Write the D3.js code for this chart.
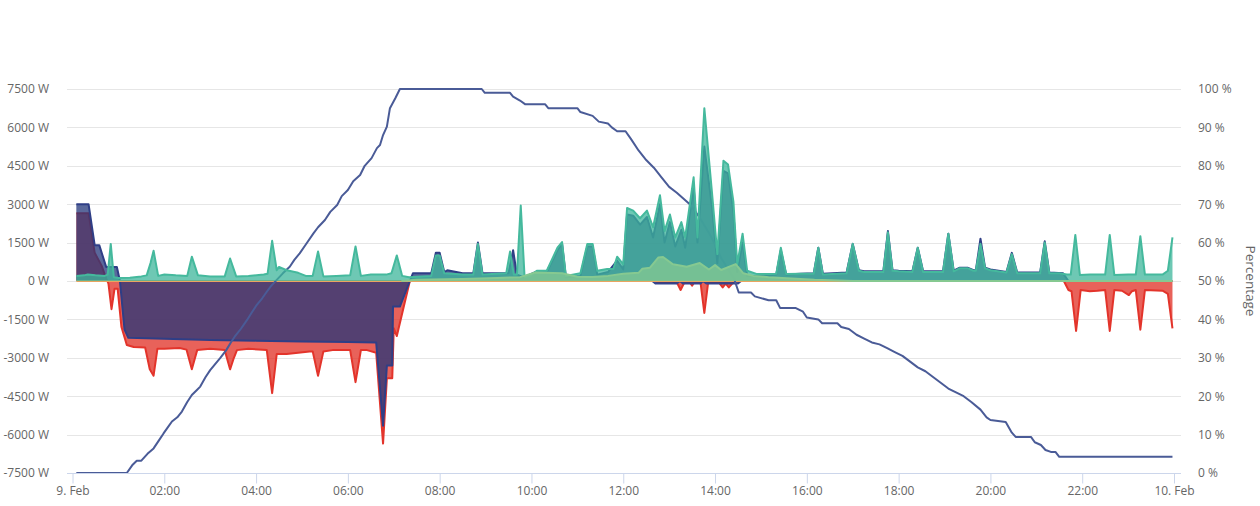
<!DOCTYPE html>
<html>
<head>
<meta charset="utf-8">
<script src="https://cdn.jsdelivr.net/npm/d3@7"></script>
<style>
  body { margin: 0; background: #fff; font-family: "Open Sans", sans-serif; }
</style>
</head>
<body>
<script>
// readings taken from the chart, [time, value]
var gridPower = [
  ["00:05",2650],["00:21",2650],["00:29",1100],["00:38",600],["00:44",100],["00:47",-100],["00:51",-1100],
  ["00:55",-300],["00:59",-300],["01:04",-1800],["01:11",-2500],["01:20",-2580],["01:35",-2600],["01:41",-3450],
  ["01:46",-3700],["01:51",-2650],["02:00",-2650],["02:20",-2620],["02:29",-2680],["02:36",-3450],["02:43",-2700],
  ["03:00",-2650],["03:19",-2700],["03:26",-3450],["03:31",-3000],["03:35",-2700],["03:50",-2650],["04:14",-2700],
  ["04:21",-4380],["04:27",-2850],["04:40",-2850],["04:55",-2800],["05:10",-2750],["05:14",-2750],["05:21",-3700],
  ["05:28",-2750],["05:40",-2700],["06:03",-2700],["06:10",-3950],["06:17",-2700],["06:25",-2700],["06:37",-2800],
  ["06:46",-6350],["06:51",-3800],["06:58",-3800],["07:00",-1850],["07:04",-2150],["07:21",0],["12:40",0],
  ["12:45",-50],["13:10",-50],["13:15",-350],["13:20",-50],["13:27",-50],["13:30",-180],["13:33",-50],["13:41",-50],
  ["13:46",-1250],["13:51",-50],["14:05",-50],["14:10",-250],["14:14",-100],["14:18",-250],["14:24",-50],["14:30",0],
  ["21:36",0],["21:42",-350],["21:46",-400],["21:52",-1950],["21:58",-350],["22:10",-400],["22:20",-380],["22:30",-350],
  ["22:36",-1950],["22:42",-350],["22:52",-380],["23:01",-550],["23:05",-400],["23:10",-350],["23:16",-1900],
  ["23:22",-350],["23:45",-380],["23:52",-500],["23:58",-1850]
];

var batteryPower = [
  ["00:05",3000],["00:21",3000],["00:29",1400],["00:35",1400],["00:44",550],["00:58",550],["01:02",0],["01:08",-1900],
  ["01:13",-2220],["02:00",-2260],["03:00",-2300],["04:00",-2330],["05:00",-2360],["06:00",-2380],["06:37",-2400],
  ["06:46",-5650],["06:51",-3300],["06:58",-3300],["06:59",-1000],["07:08",-1000],["07:21",0],["07:25",300],
  ["07:49",300],["07:55",1100],["08:00",1100],["08:06",350],["08:10",420],["08:30",300],["08:44",300],["08:50",1500],
  ["08:56",300],["09:30",300],["09:36",1200],["09:41",250],["09:50",150],["10:05",350],["10:20",350],["10:34",1200],
  ["10:40",1450],["10:45",150],["11:04",200],["11:13",1350],["11:20",1350],["11:26",250],["11:40",350],["11:52",800],
  ["12:00",450],["12:05",2600],["12:13",2550],["12:22",2200],["12:31",2500],["12:39",1700],["12:48",3000],
  ["12:54",1500],["13:01",2300],["13:08",1350],["13:16",2000],["13:21",1300],["13:32",3700],["13:37",1500],
  ["13:46",5250],["13:56",2900],["14:03",700],["14:11",4300],["14:17",4200],["14:24",2700],["14:29",350],
  ["14:36",1500],["14:42",200],["14:55",200],["15:12",220],["15:20",250],["15:26",1200],["15:33",250],["15:52",280],
  ["16:09",300],["16:15",1300],["16:21",280],["16:52",330],["17:00",1450],["17:08",420],["17:15",380],["17:40",380],
  ["17:46",1950],["17:52",420],["18:00",400],["18:18",380],["18:25",1300],["18:32",380],["18:58",380],["19:05",1850],
  ["19:12",400],["19:20",520],["19:30",520],["19:38",420],["19:41",420],["19:47",1650],["19:53",520],["20:00",450],
  ["20:21",350],["20:28",1100],["20:35",330],["21:05",330],["21:11",1550],["21:17",330],["21:35",300],["21:42",0],
  ["23:58",0]
];

var batteryTwoPower = [
  ["12:38",0],["12:42",-100],["13:10",-100],["13:14",0],["13:18",-100],["13:41",-100],["13:44",0],["13:49",-100],
  ["14:30",-100],["14:34",0]
];

var otherPower = [["00:05",0],["23:58",0]];

var housePower = [
  ["00:05",200],["00:15",220],["00:20",250],["00:30",220],["00:42",200],["00:46",250],["00:50",1450],["00:54",150],
  ["01:00",120],["01:15",130],["01:30",180],["01:37",220],["01:42",700],["01:46",1180],["01:52",200],["02:00",250],
  ["02:15",220],["02:30",200],["02:36",950],["02:44",220],["03:00",180],["03:19",180],["03:26",880],["03:34",180],
  ["03:50",200],["04:10",250],["04:15",280],["04:21",1570],["04:27",420],["04:30",550],["04:40",420],["04:55",320],
  ["05:05",200],["05:14",200],["05:21",1150],["05:28",180],["05:45",200],["06:03",220],["06:10",1350],["06:17",200],
  ["06:30",250],["06:50",250],["06:57",300],["07:04",1000],["07:11",200],["07:20",150],["07:49",200],["07:55",1000],
  ["08:00",1000],["08:06",300],["08:30",250],["08:44",250],["08:50",1450],["08:56",250],["09:27",300],["09:32",1150],
  ["09:37",250],["09:41",250],["09:46",2950],["09:51",150],["09:58",200],["10:07",400],["10:20",400],["10:34",1300],
  ["10:40",1520],["10:45",200],["11:04",300],["11:13",1450],["11:20",1450],["11:26",400],["11:39",470],["11:47",470],
  ["11:52",950],["12:00",650],["12:05",2850],["12:13",2750],["12:22",2450],["12:31",2750],["12:39",2100],
  ["12:48",3350],["12:54",1950],["13:01",2600],["13:08",1700],["13:16",2300],["13:21",1700],["13:32",4050],
  ["13:37",1700],["13:46",6750],["13:56",3450],["14:03",1050],["14:11",4700],["14:17",4550],["14:24",3100],
  ["14:29",650],["14:36",1850],["14:42",400],["14:55",270],["15:12",270],["15:20",280],["15:26",1300],["15:33",270],
  ["15:52",280],["16:09",280],["16:15",1300],["16:21",250],["16:52",300],["17:00",1450],["17:08",400],["17:15",350],
  ["17:40",350],["17:46",1900],["17:52",400],["18:00",380],["18:18",350],["18:25",1300],["18:32",350],["18:58",350],
  ["19:05",1850],["19:12",380],["19:20",500],["19:30",500],["19:38",400],["19:41",400],["19:47",1450],["19:53",500],
  ["20:00",420],["20:21",330],["20:28",1050],["20:35",300],["21:05",300],["21:11",1500],["21:17",300],["21:30",300],
  ["21:40",250],["21:45",250],["21:51",1800],["21:57",230],["22:10",250],["22:30",250],["22:36",1800],["22:42",230],
  ["23:00",250],["23:10",250],["23:16",1750],["23:22",250],["23:45",250],["23:52",400],["23:58",1700]
];

var solarPower = [
  ["07:10",0],["07:30",50],["08:30",80],["09:15",120],["09:45",150],["10:05",330],["10:40",300],["11:00",170],
  ["11:20",160],["11:40",200],["12:00",280],["12:20",320],["12:25",480],["12:35",520],["12:46",920],["12:52",940],
  ["13:05",650],["13:23",560],["13:40",700],["13:52",450],["14:00",620],["14:08",430],["14:27",660],["14:37",300],
  ["14:50",200],["15:10",150],["15:40",100],["16:10",50],["16:40",20],["17:00",0],["23:58",0]
];

var batteryPercent = [
  ["00:05",0],["01:11",0],["01:18",2],["01:24",3.2],["01:30",3.2],["01:38",5],["01:46",6.4],["01:53",8.5],
  ["01:59",10.3],["02:05",12],["02:10",13.4],["02:17",14.5],["02:23",16],["02:30",18.5],["02:36",20.3],["02:42",21.5],
  ["02:47",22.5],["02:54",25],["03:00",26.8],["03:07",28.5],["03:13",29.9],["03:21",32],["03:27",34],["03:32",35.5],
  ["03:40",37.5],["03:48",39.8],["03:55",42],["04:01",43.8],["04:08",45.5],["04:14",47.2],["04:20",48.8],
  ["04:27",50.3],["04:35",52],["04:44",53.7],["04:50",55.5],["04:57",57.2],["05:05",59.5],["05:15",62.4],
  ["05:21",64],["05:30",65.9],["05:37",68],["05:46",69.8],["05:52",72.1],["06:00",73.7],["06:07",76],["06:16",77.6],
  ["06:22",80],["06:31",82],["06:38",84.6],["06:42",85.4],["06:46",88],["06:51",90.2],["06:55",95],["07:02",97.6],
  ["07:08",100],["08:55",100],["08:59",99],["09:32",99],["09:36",98],["09:45",97],["09:52",96],["10:18",96],
  ["10:22",95],["11:00",95],["11:04",94],["11:20",93],["11:28",91.5],["11:40",91],["11:45",90],["11:52",89],
  ["12:03",89],["12:10",87],["12:20",84],["12:30",81.5],["12:40",79.5],["12:50",77],["13:00",74.5],["13:10",73],
  ["13:27",70],["13:40",66.5],["13:55",61.5],["14:08",56],["14:25",50.5],["14:31",47],["14:47",47],["14:52",46],
  ["15:10",45],["15:20",45],["15:25",43],["15:45",43],["15:55",42],["16:00",40.5],["16:15",40],["16:20",39],
  ["16:40",39],["16:45",38],["16:55",37.5],["17:05",36],["17:15",35],["17:25",34],["17:35",33.5],["17:45",32.5],
  ["17:55",31.5],["18:05",30.5],["18:15",29],["18:25",27.5],["18:35",26.5],["18:45",25],["18:55",23.5],["19:05",22],
  ["19:15",21],["19:25",20],["19:35",18.5],["19:47",16.5],["19:55",14.5],["20:00",13.8],["20:20",13.3],
  ["20:28",10.5],["20:33",9.4],["20:53",9.4],["20:58",8],["21:06",7.3],["21:12",6],["21:19",5.5],["21:25",5.5],
  ["21:30",4.2],["23:58",4.2]
];

var wattTicks = [-7500, -6000, -4500, -3000, -1500, 0, 1500, 3000, 4500, 6000, 7500];
var percentTicks = [0, 10, 20, 30, 40, 50, 60, 70, 80, 90, 100];
var timeTickLabels = ["9. Feb", "02:00", "04:00", "06:00", "08:00", "10:00", "12:00",
                      "14:00", "16:00", "18:00", "20:00", "22:00", "10. Feb"];

var w = 1260, h = 506;
var plotLeft = 67, plotRight = 1181, plotTop = 89, plotBottom = 473;

var parseTime = d3.timeParse("%H:%M");
var day0 = parseTime("00:00");
var day1 = d3.timeDay.offset(day0, 1);

function toPoints(list) {
  return list.map(function(d) { return { t: parseTime(d[0]), v: d[1] }; });
}

var x = d3.scaleTime().domain([day0, day1]).range([72.5, 1174]);
var y = d3.scaleLinear().domain([-7500, 7500]).range([plotBottom, plotTop]);
var yPct = d3.scaleLinear().domain([0, 100]).range([plotBottom, plotTop]);

var svg = d3.select("body").append("svg")
  .attr("width", w)
  .attr("height", h);

// grid lines
svg.append("g").selectAll("line")
  .data(wattTicks)
  .enter().append("line")
  .attr("x1", plotLeft).attr("x2", plotRight)
  .attr("y1", function(d) { return Math.round(y(d)) + 0.5; })
  .attr("y2", function(d) { return Math.round(y(d)) + 0.5; })
  .attr("stroke", "#e6e6e6")
  .attr("stroke-width", 1);

var area = d3.area()
  .x(function(d) { return x(d.t); })
  .y0(y(0))
  .y1(function(d) { return y(d.v); });

var line = d3.line()
  .x(function(d) { return x(d.t); })
  .y(function(d) { return y(d.v); });

function drawArea(list, fill, stroke) {
  var pts = toPoints(list);
  svg.append("path").datum(pts)
    .attr("d", area)
    .attr("fill", fill)
    .attr("fill-opacity", 0.75);
  svg.append("path").datum(pts)
    .attr("d", line)
    .attr("fill", "none")
    .attr("stroke", stroke)
    .attr("stroke-width", 2)
    .attr("stroke-linejoin", "round");
}

drawArea(gridPower, "#e02d23", "#e3342b");
drawArea(batteryPower, "#233579", "#2f3e86");
drawArea(batteryTwoPower, "#233579", "#34448c");
drawArea(otherPower, "#e9a560", "#e9a560");

// state of charge, right axis
var pctLine = d3.line()
  .x(function(d) { return x(d.t); })
  .y(function(d) { return yPct(d.v); });

svg.append("path").datum(toPoints(batteryPercent))
  .attr("d", pctLine)
  .attr("fill", "none")
  .attr("stroke", "#4a5b97")
  .attr("stroke-width", 2)
  .attr("stroke-linejoin", "round");

drawArea(housePower, "#3db59b", "#45b99d");
drawArea(solarPower, "#86c991", "#86c991");

// x axis
var xAxis = d3.axisBottom(x)
  .tickValues(d3.timeHour.range(day0, d3.timeHour.offset(day1, 1), 2))
  .tickFormat(function(d, i) { return timeTickLabels[i]; })
  .tickSize(10)
  .tickPadding(3)
  .tickSizeOuter(0);

var gx = svg.append("g")
  .attr("transform", "translate(0," + (plotBottom + 0.5) + ")")
  .call(xAxis);
gx.select(".domain").remove();
gx.insert("line", ":first-child")
  .attr("x1", plotLeft).attr("x2", plotRight)
  .attr("stroke", "#ccd6eb");
gx.selectAll(".tick line").attr("stroke", "#ccd6eb");
gx.selectAll("text")
  .attr("fill", "#666666")
  .style("font-family", "'Open Sans', sans-serif")
  .style("font-size", "12px");

// left axis
var gy = svg.append("g")
  .attr("transform", "translate(" + plotLeft + ",0)")
  .call(d3.axisLeft(y).tickValues(wattTicks).tickSize(0).tickPadding(18)
    .tickFormat(function(d) { return d + " W"; }));
gy.select(".domain").remove();
gy.selectAll("text")
  .attr("fill", "#666666")
  .style("font-family", "'Open Sans', sans-serif")
  .style("font-size", "12px");

// right axis
var gr = svg.append("g")
  .attr("transform", "translate(" + plotRight + ",0)")
  .call(d3.axisRight(yPct).tickValues(percentTicks).tickSize(0).tickPadding(17)
    .tickFormat(function(d) { return d + " %"; }));
gr.select(".domain").remove();
gr.selectAll("text")
  .attr("fill", "#666666")
  .style("font-family", "'Open Sans', sans-serif")
  .style("font-size", "12px");

svg.append("text")
  .attr("transform", "translate(1246," + ((plotTop + plotBottom) / 2) + ") rotate(90)")
  .attr("text-anchor", "middle")
  .attr("fill", "#666666")
  .style("font-family", "'Open Sans', sans-serif")
  .style("font-size", "13.5px")
  .text("Percentage");
</script>
</body>
</html>
